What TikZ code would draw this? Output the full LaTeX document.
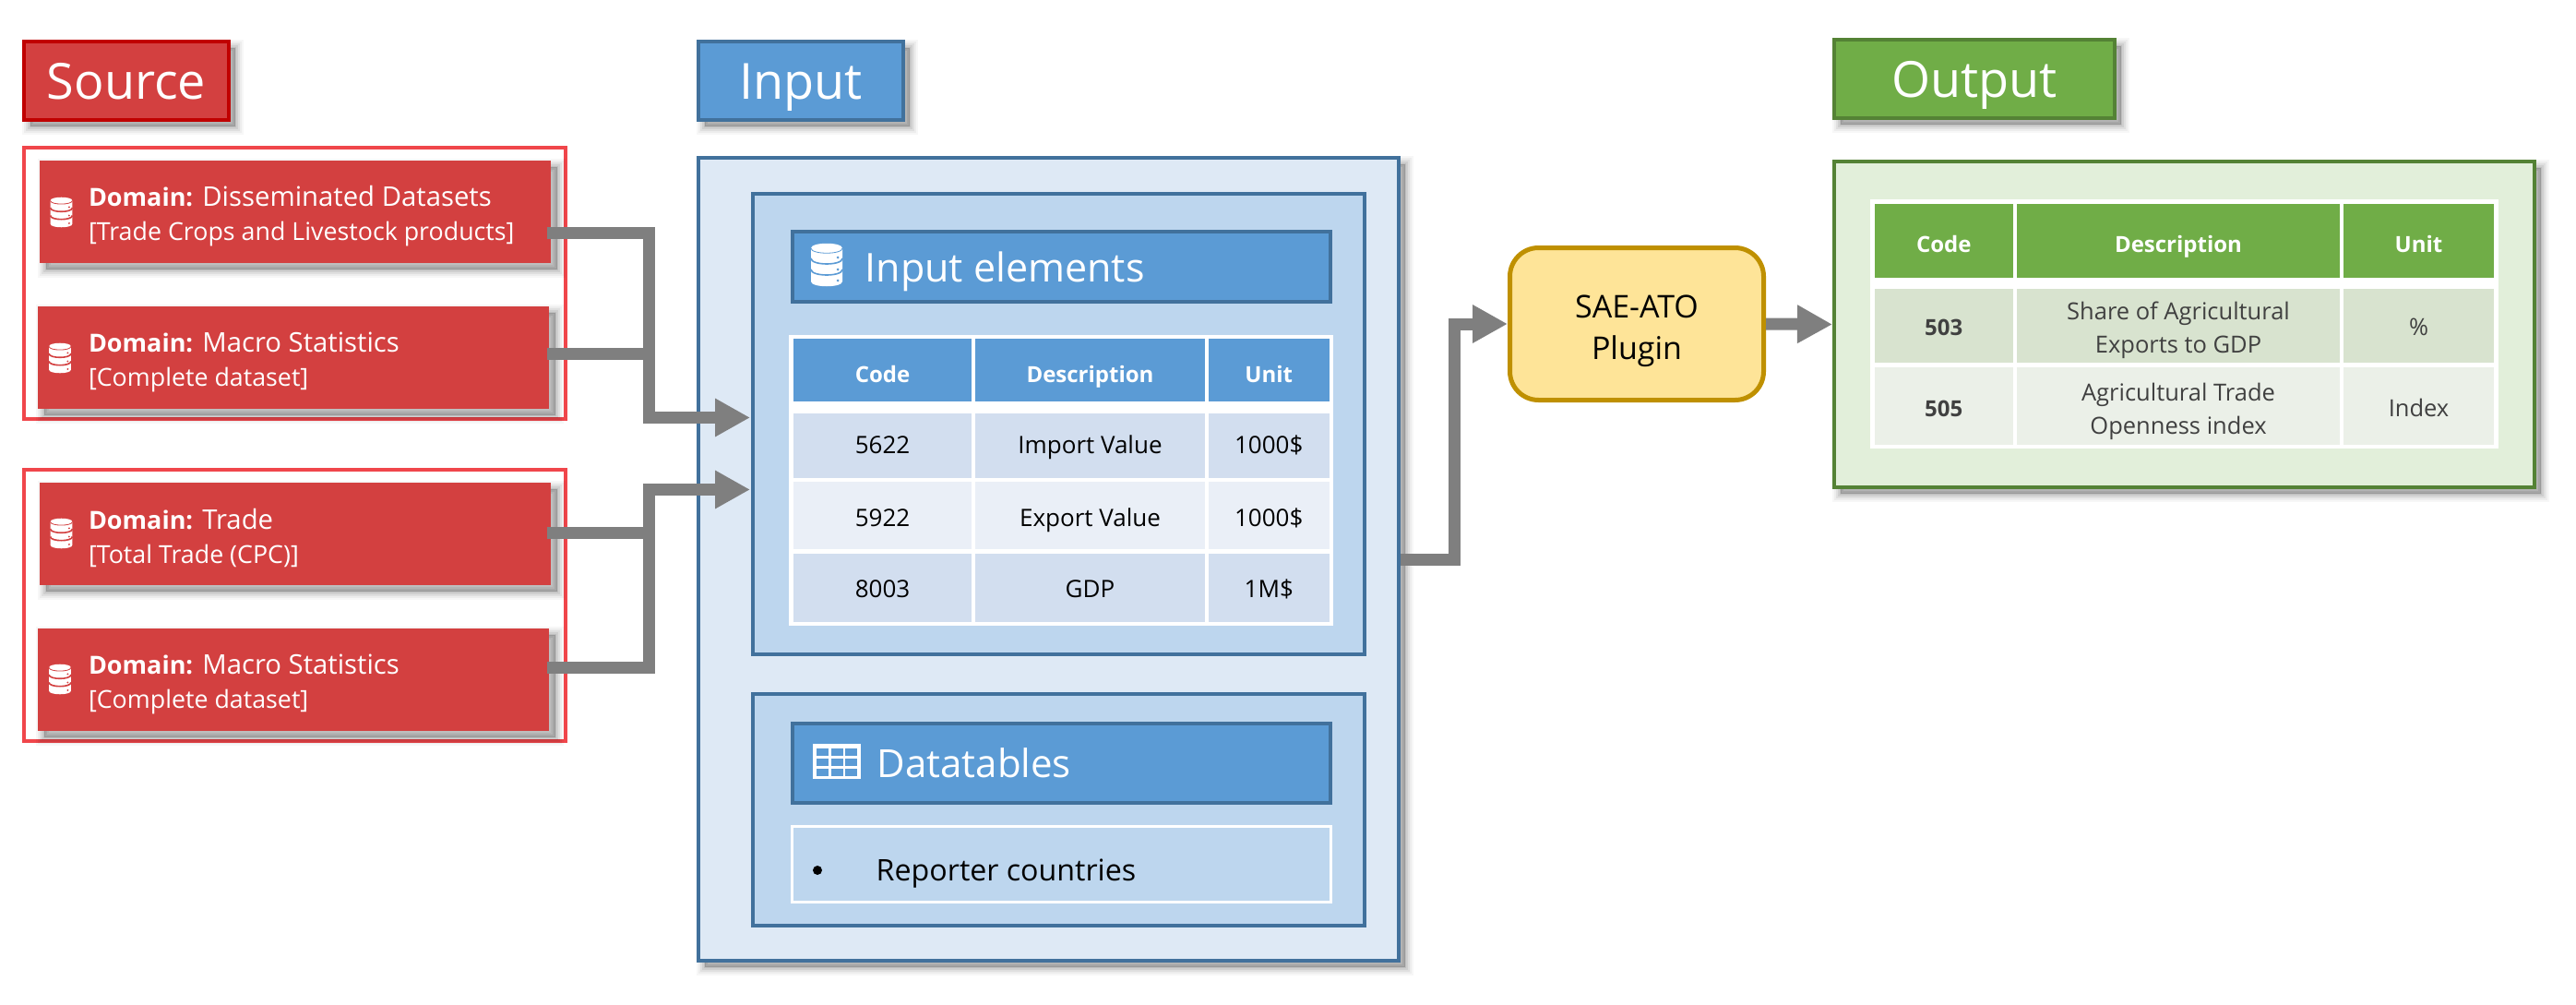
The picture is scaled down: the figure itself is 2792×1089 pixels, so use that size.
\documentclass[tikz,border=0pt]{standalone}
\usepackage{fontspec}
\setmainfont{Open Sans}
\usetikzlibrary{arrows.meta,positioning}
\definecolor{srcRed}{RGB}{211, 64, 64}
\definecolor{srcDark}{RGB}{192, 0, 0}
\definecolor{srcFrame}{RGB}{240, 70, 75}
\definecolor{inBlue}{RGB}{91, 155, 213}
\definecolor{inDark}{RGB}{65, 113, 156}
\definecolor{inPale}{RGB}{222, 233, 245}
\definecolor{inMid}{RGB}{189, 214, 238}
\definecolor{inRowA}{RGB}{210, 222, 239}
\definecolor{inRowB}{RGB}{234, 239, 247}
\definecolor{outGreen}{RGB}{112, 173, 71}
\definecolor{outDark}{RGB}{84, 130, 53}
\definecolor{outPale}{RGB}{226, 239, 218}
\definecolor{outRowA}{RGB}{216, 227, 207}
\definecolor{outRowB}{RGB}{235, 240, 232}
\definecolor{plugYellow}{RGB}{254, 228, 152}
\definecolor{plugDark}{RGB}{191, 144, 0}
\definecolor{flowGray}{RGB}{127, 127, 127}
\newcommand{\fsz}[2]{\fontsize{#1}{#2}\selectfont}
\newcommand{\domLabel}{{\fsz{27}{37}\bfseries Domain:}}
\tikzset{
    softShadow/.style={
        preaction={fill=black,fill opacity=.2,draw=black,draw opacity=.03,line width=18pt,transform canvas={xshift=7pt,yshift=-7pt}},
        preaction={fill=none,draw=black,draw opacity=.04,line width=14pt,transform canvas={xshift=7pt,yshift=-7pt}},
        preaction={fill=none,draw=black,draw opacity=.06,line width=10pt,transform canvas={xshift=7pt,yshift=-7pt}},
        preaction={fill=none,draw=black,draw opacity=.07,line width=6pt,transform canvas={xshift=7pt,yshift=-7pt}},
        preaction={fill=none,draw=black,draw opacity=.08,line width=2pt,transform canvas={xshift=7pt,yshift=-7pt}}},
    titleBox/.style={softShadow, line width=4pt, text=white, font=\fsz{54}{60}, inner sep=0pt, text height=50pt, text depth=9pt},
    domainBox/.style={softShadow, fill=srcRed, minimum width=554pt, minimum height=111pt, inner sep=0pt},
    domainText/.style={anchor=west, text=white, align=left, font=\fsz{29.3}{37}, inner sep=0pt},
    srcFrameBox/.style={draw=srcFrame, line width=4pt, minimum width=587pt, minimum height=294pt, inner sep=0pt},
    panelBox/.style={draw=inDark, fill=inMid, line width=4pt, minimum width=663pt, inner sep=0pt},
    headBox/.style={draw=inDark, fill=inBlue, line width=4pt, minimum width=583pt, inner sep=0pt},
    headText/.style={anchor=west, text=white, inner sep=0pt},
    cell/.style={minimum height=#1, inner sep=0pt, align=center, font=\fsz{26}{36}},
    rowText/.style={text height=#1, text depth=0pt},
    headCell/.style={text=white, font=\fsz{24}{36}\bfseries},
    flow/.style={draw=flowGray, line width=13pt, -{Triangle[length=38pt,width=39pt]}},
    flowJoin/.style={draw=flowGray, line width=13pt},
    pics/dbicon/.style={code={
        \fill[white] (-17,-18) -- (-17,18) .. controls (-17,25) and (17,25) .. (17,18) -- (17,-18) .. controls (17,-25) and (-17,-25) .. (-17,-18) -- cycle;
        \draw[#1, line width=1.6pt] (-17,-7) .. controls (-17,1) and (17,1) .. (17,-7);
        \draw[#1, line width=1.6pt] (-17,5) .. controls (-17,13) and (17,13) .. (17,5);
        \draw[#1, line width=.8pt] (-17,-18) .. controls (-17,-11) and (17,-11) .. (17,-18);
        \foreach \dy in {-8,5,17} \fill[#1] (12,\dy) circle (1.5);
    }},
    pics/gridicon/.style={code={
        \fill[white] (-26,-19) rectangle (26,19);
        \foreach \cx in {-22,-6,9} \foreach \cy in {-14.3,-3.3,7.7}
            \fill[#1] (\cx,\cy) rectangle ++(13,7.8);
    }},
}
\begin{document}
\begin{tikzpicture}[x=1pt, y=-1pt]
    \useasboundingbox (0,0) rectangle (2792,1089);
    % source side
    \node[titleBox, draw=srcDark, fill=srcRed, minimum width=222pt, minimum height=85pt] (srcTitle) at (137,87.5) {Source};
    \node[srcFrameBox] (srcFrameA) at (319.5,307) {};
    \node[srcFrameBox] (srcFrameB) at (319.5,655.5) {};
    \node[domainBox] (dom1) at (320,229.5) {};
    \node[domainBox] (dom2) at (318,387.5) {};
    \node[domainBox] (dom3) at (320,578) {};
    \node[domainBox] (dom4) at (318,736) {};
    \node[domainText] (dom1txt) at ([xshift=53pt,yshift=-5pt]dom1.west) {\domLabel{} Disseminated Datasets\\{\fsz{26.8}{37}[Trade Crops and Livestock products]}};
    \node[domainText] (dom2txt) at ([xshift=55pt,yshift=-5pt]dom2.west) {\domLabel{} Macro Statistics\\{\fsz{26.8}{37}[Complete dataset]}};
    \node[domainText] (dom3txt) at ([xshift=53pt,yshift=-5pt]dom3.west) {\domLabel{} Trade\\{\fsz{26.8}{37}[Total Trade (CPC)]}};
    \node[domainText] (dom4txt) at ([xshift=55pt,yshift=-5pt]dom4.west) {\domLabel{} Macro Statistics\\{\fsz{26.8}{37}[Complete dataset]}};
    \pic[scale=.7] at (66.5,230) {dbicon=srcRed};
    \pic[scale=.7] at (65,388) {dbicon=srcRed};
    \pic[scale=.7] at (66.5,578) {dbicon=srcRed};
    \pic[scale=.7] at (65,736) {dbicon=srcRed};
    % input side
    \node[titleBox, draw=inDark, fill=inBlue, minimum width=222pt, minimum height=85pt] (inTitle) at (868,87.5) {Input};
    \node[softShadow, draw=inDark, fill=inPale, line width=4pt, minimum width=759pt, minimum height=870pt, inner sep=0pt] (inBox) at (1136.5,606) {};
    \node[panelBox, minimum height=499pt] (panelA) at (1147.5,459.5) {};
    \node[headBox, minimum height=76pt] (headA) at (1150,288.5) {};
    \node[headText, font=\fsz{43}{48}] (headAtxt) at ([xshift=81pt,yshift=-6pt]headA.west) {Input elements};
    \pic at (896,287) {dbicon=inBlue};
    \node[fill=white, minimum width=590pt, minimum height=315pt, inner sep=0pt] (inTab) at (1150,520) {};
    \node[cell=68pt, headCell, rowText=26pt, fill=inBlue, minimum width=193pt] (inCode) at (956.5,401) {Code};
    \node[cell=68pt, headCell, rowText=26pt, fill=inBlue, minimum width=249pt] (inDesc) at (1181.5,401) {Description};
    \node[cell=68pt, headCell, rowText=26pt, fill=inBlue, minimum width=130.5pt] (inUnit) at (1375.25,401) {Unit};
    \node[cell=69.5pt, rowText=18pt, fill=inRowA, minimum width=193pt] (inCodeA) at (956.5,482.75) {5622};
    \node[cell=69.5pt, rowText=18pt, fill=inRowA, minimum width=249pt] (inDescA) at (1181.5,482.75) {Import Value};
    \node[cell=69.5pt, rowText=18pt, fill=inRowA, minimum width=130.5pt] (inUnitA) at (1375.25,482.75) {1000\$};
    \node[cell=73pt, rowText=23pt, fill=inRowB, minimum width=193pt] (inCodeB) at (956.5,558.5) {5922};
    \node[cell=73pt, rowText=23pt, fill=inRowB, minimum width=249pt] (inDescB) at (1181.5,558.5) {Export Value};
    \node[cell=73pt, rowText=23pt, fill=inRowB, minimum width=130.5pt] (inUnitB) at (1375.25,558.5) {1000\$};
    \node[cell=73.5pt, rowText=22pt, fill=inRowA, minimum width=193pt] (inCodeC) at (956.5,636.75) {8003};
    \node[cell=73.5pt, rowText=22pt, fill=inRowA, minimum width=249pt] (inDescC) at (1181.5,636.75) {GDP};
    \node[cell=73.5pt, rowText=22pt, fill=inRowA, minimum width=130.5pt] (inUnitC) at (1375.25,636.75) {1M\$};
    \node[panelBox, minimum height=251pt] (panelB) at (1147.5,877.5) {};
    \node[headBox, minimum height=86pt] (headB) at (1150,827) {};
    \node[headText, font=\fsz{42}{48}] (headBtxt) at ([xshift=94pt,yshift=0pt]headB.west) {Datatables};
    \pic at (907,825) {gridicon=inBlue};
    \node[draw=white, line width=3pt, minimum width=584pt, minimum height=82pt, inner sep=0pt] (repBox) at (1150,936.5) {};
    \node[anchor=west, font=\fsz{32.2}{36}, inner sep=0pt] (repTxt) at ([xshift=93pt,yshift=-10.5pt]repBox.west) {Reporter countries};
    \node[circle, fill=black, minimum size=10pt, inner sep=0pt] (repDot) at (886,943) {};
    % plugin
    \node[draw=plugDark, fill=plugYellow, line width=5pt, rounded corners=31pt, minimum width=275pt, minimum height=165pt, inner sep=0pt] (plugin) at (1774,351) {};
    \node[align=center, font=\fsz{34}{45}, inner sep=0pt] (pluginTxt) at ([yshift=-7.5pt]plugin.center) {SAE-ATO\\Plugin};
    % output side
    \node[titleBox, draw=outDark, fill=outGreen, minimum width=304pt, minimum height=85pt] (outTitle) at (2140,85.5) {Output};
    \node[softShadow, draw=outDark, fill=outPale, line width=4pt, minimum width=759pt, minimum height=353pt, inner sep=0pt] (outBox) at (2367.5,351.5) {};
    \node[fill=white, minimum width=681pt, minimum height=270pt, inner sep=0pt] (outTab) at (2367.5,351) {};
    \node[cell=80pt, headCell, rowText=25pt, fill=outGreen, minimum width=150.5pt] (outCode) at (2106.75,261) {Code};
    \node[cell=80pt, headCell, rowText=25pt, fill=outGreen, minimum width=350pt] (outDesc) at (2361,261) {Description};
    \node[cell=80pt, headCell, rowText=25pt, fill=outGreen, minimum width=163pt] (outUnit) at (2621.5,261) {Unit};
    \node[cell=80pt, rowText=20pt, fill=outRowA, minimum width=150.5pt, text=black!75, font=\fsz{24}{36}\bfseries] (outCodeA) at (2106.75,353) {503};
    \node[cell=80pt, fill=outRowA, minimum width=350pt, text=black!75, font=\fsz{25.5}{36}] (outDescA) at (2361,353) {\rule{0pt}{29pt}Share of Agricultural\\Exports to GDP};
    \node[cell=80pt, rowText=20pt, fill=outRowA, minimum width=163pt, text=black!75, font=\fsz{25.5}{36}] (outUnitA) at (2621.5,353) {\%};
    \node[cell=84pt, rowText=22pt, fill=outRowB, minimum width=150.5pt, text=black!75, font=\fsz{24}{36}\bfseries] (outCodeB) at (2106.75,440) {505};
    \node[cell=84pt, fill=outRowB, minimum width=350pt, text=black!75, font=\fsz{25.5}{36}] (outDescB) at (2361,440) {\rule{0pt}{31pt}Agricultural Trade\\Openness index};
    \node[cell=84pt, rowText=22pt, fill=outRowB, minimum width=163pt, text=black!75, font=\fsz{25.5}{36}] (outUnitB) at (2621.5,440) {Index};
    % connectors
    \coordinate (busA) at (703,452.5);
    \coordinate (busB) at (703,530.5);
    \coordinate (busC) at (1576,351);
    \coordinate (joinA) at (709,383.5);
    \coordinate (joinB) at (709,577.5);
    \coordinate (tipA) at (813,452.5);
    \coordinate (tipB) at (813,530.5);
    \draw[flow] ([xshift=-4pt,yshift=-22.5pt]dom1.east) -| (busA) -- (tipA);
    \draw[flowJoin] ([xshift=-2pt,yshift=4pt]dom2.east) -- (joinA);
    \draw[flowJoin] ([xshift=-4pt,yshift=.5pt]dom3.east) -- (joinB);
    \draw[flow] ([xshift=-2pt,yshift=13pt]dom4.east) -| (busB) -- (tipB);
    \draw[flow] (inBox.east) -| (busC) -- (plugin.west);
    \draw[flow] (plugin.east) -- (outBox.west);
\end{tikzpicture}
\end{document}
